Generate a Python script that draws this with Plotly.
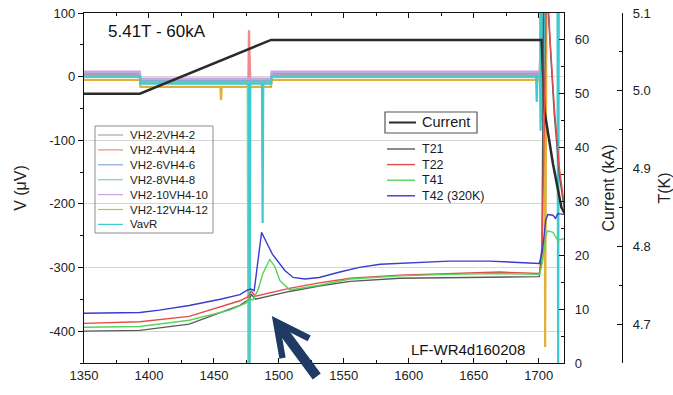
import plotly.graph_objects as go

# ---------------- data ----------------
# voltage-tap channels (µV) share one time base (s)
v_time = [1350, 1393, 1393.5, 1455, 1455.5, 1456, 1476, 1476.5, 1477, 1477.5, 1478,
          1487, 1487.5, 1488, 1494, 1494.5, 1698, 1698.5, 1699, 1701, 1701.5, 1702,
          1702.5, 1703, 1703.5, 1704, 1704.5, 1705, 1705.5, 1706, 1714.5, 1715, 1715.5, 1720]

v_2_2 = [3, 3] + [-8] * 13 + [3] * 5 + [120] * 14
v_4_4 = [2, 2, -9, -9, -9, -9, -9, -9, 73, -9, -9, -9, -9, -9, -9] + [2] * 5 + [120] * 14
v_6_6 = [5, 5] + [-6] * 13 + [5] * 5 + [120] * 14
v_8_8 = [0, 0, -10, -10, -10, -10, -10, -460, -10, -10, -10, -10, -10, -10, -10] + [0] * 5 + [120] * 14
v_10_10 = [8, 8] + [-3] * 13 + [8] * 5 + [120] * 14
v_12_12 = [-5, -5, -16, -16, -37, -16, -16, -16, -16, -16, -16, -16, -16, -16, -16,
           -5, -5, -5, -5, -5, 120, 120, 120, 120, 120, 120, 120, -425, 120, 120, 120, 120, 120, 120]
v_avr = [0, 0, -11, -11, -11, -11, -11, -11, -11, -460, -11, -11, -230, -11, -11,
         0, 0, -40, 0, 0, -85, 120, -70, 120, -50, 120, -30, 120, 120, 120, 120, -460, 120, 120]

v_names = ["VH2-2VH4-2", "VH2-4VH4-4", "VH2-6VH4-6", "VH2-8VH4-8",
           "VH2-10VH4-10", "VH2-12VH4-12", "VavR"]
v_series = [v_2_2, v_4_4, v_6_6, v_8_8, v_10_10, v_12_12, v_avr]
v_colors = ["#a8a8a8", "#f08a8a", "#86a8dc", "#7fd49c", "#c8a4e0", "#e2b03a", "#3fcad2"]

# magnet current (kA)
cur_time = [1350, 1393, 1494, 1702.3, 1704.5, 1711, 1717.5, 1720]
cur_ka = [50, 50, 60, 60, 46.8, 37, 28.9, 27.8]

# temperature sensors (K)
t21_time = [1350, 1393, 1431, 1470, 1477, 1479, 1482, 1487, 1493, 1508, 1531, 1555,
            1593, 1631, 1670, 1700.5, 1702.5, 1704, 1706, 1709, 1712, 1716, 1720]
t21 = [4.691, 4.692, 4.700, 4.724, 4.732, 4.738, 4.732, 4.734, 4.737, 4.742, 4.749, 4.755,
       4.759, 4.760, 4.761, 4.761, 4.800, 5.150, 5.140, 5.050, 4.970, 4.890, 4.845]

t22_time = [1350, 1393, 1431, 1470, 1476, 1479, 1482, 1487, 1493, 1508, 1531, 1555,
            1593, 1631, 1670, 1700.5, 1702.5, 1704.6, 1706.2, 1709, 1712, 1716, 1720]
t22 = [4.701, 4.703, 4.710, 4.730, 4.735, 4.742, 4.736, 4.738, 4.741, 4.746, 4.753, 4.759,
       4.763, 4.765, 4.767, 4.765, 4.780, 4.990, 5.150, 5.060, 4.980, 4.900, 4.850]

t41_time = [1350, 1393, 1431, 1462, 1474.6, 1477, 1480, 1484, 1487.7, 1493, 1496.9, 1500.8,
            1508.5, 1531, 1555, 1593, 1631, 1670, 1700.8, 1703.1, 1705.4, 1707, 1711, 1714.6, 1720]
t41 = [4.696, 4.697, 4.705, 4.718, 4.727, 4.733, 4.731, 4.744, 4.765, 4.783, 4.774, 4.756,
       4.744, 4.750, 4.758, 4.762, 4.764, 4.765, 4.764, 4.782, 4.814, 4.820, 4.818, 4.808, 4.810]

t42_time = [1350, 1378, 1393, 1408, 1431, 1455, 1470, 1476, 1478.5, 1481, 1484.5, 1486.7,
            1489, 1495, 1504.6, 1511, 1520, 1531, 1547, 1562, 1578, 1601, 1631, 1662, 1685,
            1700.5, 1703, 1705.4, 1707, 1711, 1713, 1714.6, 1720]
t42 = [4.714, 4.715, 4.715, 4.718, 4.724, 4.732, 4.738, 4.744, 4.745, 4.743, 4.785, 4.818,
       4.810, 4.790, 4.769, 4.760, 4.758, 4.760, 4.767, 4.773, 4.777, 4.779, 4.781, 4.781, 4.779,
       4.778, 4.795, 4.833, 4.841, 4.840, 4.836, 4.842, 4.841]

t_names = ["T21", "T22", "T41", "T42 (320K)"]
t_times = [t21_time, t22_time, t41_time, t42_time]
t_series = [t21, t22, t41, t42]
t_colors = ["#5a5a5a", "#e64b4b", "#55d655", "#3b3bd0"]

cur_name = "Current"
cur_color = "#2b2b2b"

# axis ticks
x_ticks = [1350, 1400, 1450, 1500, 1550, 1600, 1650, 1700]
v_ticks = [100, 0, -100, -200, -300, -400]
v_tick_text = ["100", "0", "-100", "-200", "-300", "-400"]
v_minor = [50, -50, -150, -250, -350, -450]

FONT = "Liberation Sans, Arial, Helvetica, sans-serif"

# page geometry (px) of the plotting frame
W, H = 673, 395
ML, MR, MT, MB = 84, 51, 13, 32
PW, PH = W - ML - MR, H - MT - MB


def fx(p):
    """horizontal page pixel -> paper fraction"""
    return (p - ML) / PW


def fy(p):
    """vertical page pixel -> paper fraction"""
    return 1 - (p - MT) / PH


fig = go.Figure()

# voltage channels
for color, vals in zip(v_colors, v_series):
    fig.add_trace(go.Scatter(x=v_time, y=vals, mode="lines", showlegend=False,
                             line=dict(color=color, width=2.2), hoverinfo="skip"))

# current on the right-hand axis
fig.add_trace(go.Scatter(x=cur_time, y=cur_ka, mode="lines", yaxis="y2", showlegend=False,
                         line=dict(color=cur_color, width=2.5)))

# temperatures on the outer axis
for color, tx, ty in zip(t_colors, t_times, t_series):
    fig.add_trace(go.Scatter(x=tx, y=ty, mode="lines", yaxis="y3", showlegend=False,
                             line=dict(color=color, width=1.4)))

shapes = []
annotations = []


def legend_block(names, colors, x0, y0, step, line_len, gap, size, lw):
    for i, (name, color) in enumerate(zip(names, colors)):
        yy = fy(y0 + i * step)
        shapes.append(dict(type="line", xref="paper", yref="paper",
                           x0=fx(x0), x1=fx(x0 + line_len), y0=yy, y1=yy,
                           line=dict(color=color, width=lw)))
        annotations.append(dict(text=name, xref="paper", yref="paper",
                                x=fx(x0 + line_len + gap), y=yy, xanchor="left", yanchor="middle",
                                showarrow=False, font=dict(size=size, family=FONT, color="#1a1a1a")))


# voltage legend (framed)
shapes.append(dict(type="rect", xref="paper", yref="paper", x0=fx(95), x1=fx(213),
                   y0=fy(126), y1=fy(233), line=dict(color="#8c8c8c", width=1)))
legend_block(v_names, v_colors, 98, 135, 14.9, 25, 5, 11.5, 1.2)

# current legend (framed)
shapes.append(dict(type="rect", xref="paper", yref="paper", x0=fx(385), x1=fx(477),
                   y0=fy(112), y1=fy(133), line=dict(color="#555", width=1.2)))
legend_block([cur_name], [cur_color], 389, 122.5, 0, 27, 4, 14.5, 2)

# temperature legend
legend_block(t_names, t_colors, 387, 149, 15.6, 28, 5, 12.5, 1.4)

annotations += [
    dict(text="5.41T - 60kA", xref="paper", yref="paper", x=fx(106), y=fy(32),
         xanchor="left", yanchor="middle", showarrow=False,
         font=dict(size=17, family=FONT, color="#111")),
    dict(text="LF-WR4d160208", xref="paper", yref="paper", x=fx(527), y=fy(349),
         xanchor="right", yanchor="middle", showarrow=False,
         font=dict(size=15, family=FONT, color="#111")),
    dict(text="", x=1494.6, y=-376, xref="x", yref="y", ax=46, ay=62,
         showarrow=True, arrowhead=5, arrowsize=0.65, arrowwidth=10,
         arrowcolor="#1f3b63"),
]

axis_common = dict(showline=True, linecolor="#111", linewidth=1.2, zeroline=False,
                   tickcolor="#111", automargin=False,
                   tickfont=dict(size=13, color="#222", family=FONT))
title_font = dict(size=16, family=FONT, color="#222")

fig.update_layout(
    width=W, height=H,
    margin=dict(l=ML, r=MR, t=MT, b=MB, autoexpand=False),
    paper_bgcolor="white", plot_bgcolor="white",
    font=dict(family=FONT, color="#222", size=13),
    showlegend=False,
    xaxis=dict(domain=[0, fx(564)], range=[1350, 1719.5], tickvals=x_ticks,
               ticks="inside", ticklen=5, mirror="ticks", showgrid=False,
               minor=dict(dtick=25, tick0=1350, ticks="inside", ticklen=3, tickcolor="#111"),
               **axis_common),
    yaxis=dict(range=[-450, 100], tickvals=v_ticks, ticktext=v_tick_text,
               ticks="outside", ticklen=5, showgrid=True, gridcolor="#d6d6d6", gridwidth=1,
               minor=dict(tickvals=v_minor, ticks="outside", ticklen=3, tickcolor="#111"),
               title=dict(text="V (μV)", font=title_font, standoff=18),
               **axis_common),
    yaxis2=dict(overlaying="y", side="right", anchor="x", range=[0, 65], dtick=10,
                ticks="inside", ticklen=5, showgrid=False, ticklabelstandoff=7,
                minor=dict(dtick=5, ticks="inside", ticklen=3, tickcolor="#111"),
                title=dict(text="Current (kA)", font=title_font, standoff=14),
                **axis_common),
    yaxis3=dict(overlaying="y", side="right", anchor="free", position=1.0,
                range=[4.65, 5.1], dtick=0.1, tickformat=".1f",
                ticks="inside", ticklen=5, showgrid=False, ticklabelstandoff=7,
                minor=dict(dtick=0.05, ticks="inside", ticklen=3, tickcolor="#111"),
                title=dict(text="T(K)", font=title_font, standoff=12),
                **axis_common),
    shapes=shapes,
    annotations=annotations,
)

fig.write_html("out.html")
